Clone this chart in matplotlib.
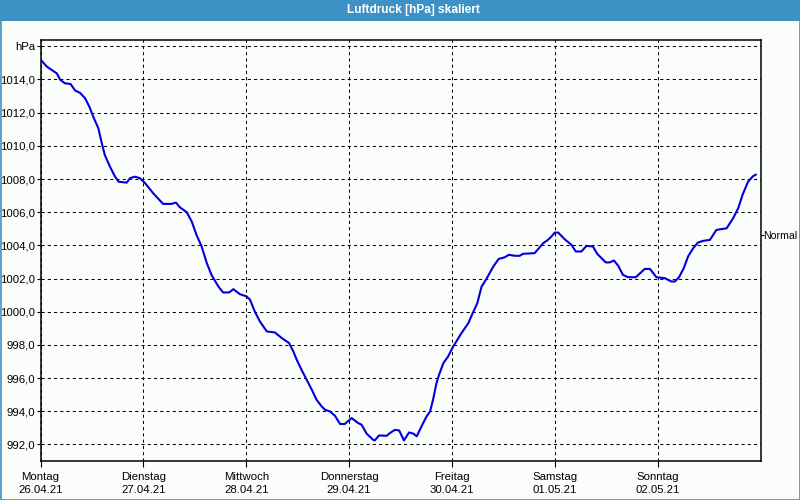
import matplotlib
matplotlib.use("Agg")
import matplotlib.pyplot as plt
from matplotlib.patches import Rectangle

# ---- data -------------------------------------------------------------
title = "Luftdruck [hPa] skaliert"
day_names = ["Montag", "Dienstag", "Mittwoch", "Donnerstag", "Freitag", "Samstag", "Sonntag"]
day_dates = ["26.04.21", "27.04.21", "28.04.21", "29.04.21", "30.04.21", "01.05.21", "02.05.21"]
day_hours = [0, 24, 48, 72, 96, 120, 144]
y_ticks = [992, 994, 996, 998, 1000, 1002, 1004, 1006, 1008, 1010, 1012, 1014, 1016]
y_labels = ["992,0", "994,0", "996,0", "998,0", "1000,0", "1002,0", "1004,0",
            "1006,0", "1008,0", "1010,0", "1012,0", "1014,0", "hPa"]
normal_value = 1004.6
normal_label = "Normal"

hours = [0.1, 1.5, 3.8, 4.6, 5.7, 7.0, 8.1, 9.2, 10.4, 11.4, 12.3, 13.5, 14.3, 15.0,
         16.2, 17.4, 18.2, 20.1, 20.9, 22.0, 23.2, 24.4, 26.3, 28.6, 30.6, 31.6, 32.5,
         34.1, 35.3, 36.4, 37.6, 38.8, 39.9, 41.5, 42.6, 44.0, 45.0, 46.5, 48.1, 48.9,
         50.0, 51.2, 52.8, 54.7, 56.3, 58.0, 59.0, 59.8, 60.9, 62.1, 63.3, 64.4, 65.6,
         66.4, 67.5, 68.7, 69.9, 71.0, 72.6, 74.1, 74.9, 76.1, 77.6, 78.0, 79.0, 80.8,
         81.5, 82.7, 83.7, 84.8, 86.0, 87.0, 87.8, 88.9, 90.1, 90.9, 91.6, 92.4, 93.0,
         94.0, 95.1, 96.3, 98.2, 99.8, 101.0, 101.9, 102.9, 104.1, 105.6, 106.9, 108.3,
         109.3, 110.7, 111.8, 112.6, 115.3, 116.3, 117.3, 118.4, 119.2, 120.0, 120.8,
         122.3, 123.9, 124.9, 126.2, 127.4, 128.9, 129.9, 131.9, 132.8, 133.8, 134.8,
         135.9, 137.1, 138.9, 141.0, 142.2, 143.7, 145.7, 147.2, 148.0, 149.0, 150.1,
         151.1, 152.3, 153.4, 154.6, 156.2, 157.7, 160.1, 161.6, 162.8, 163.8, 165.1,
         166.3, 166.9]
pressure = [1015.17, 1014.77, 1014.37, 1013.98, 1013.77, 1013.73, 1013.33, 1013.20,
            1012.87, 1012.36, 1011.76, 1011.06, 1010.16, 1009.45, 1008.75, 1008.14,
            1007.84, 1007.78, 1008.05, 1008.14, 1008.05, 1007.75, 1007.14, 1006.50,
            1006.50, 1006.58, 1006.30, 1006.00, 1005.43, 1004.63, 1003.93, 1002.93,
            1002.22, 1001.52, 1001.16, 1001.16, 1001.36, 1001.06, 1000.92, 1000.72,
            1000.01, 999.41, 998.81, 998.75, 998.41, 998.11, 997.60, 997.10, 996.50,
            995.90, 995.30, 994.70, 994.29, 994.09, 993.99, 993.73, 993.23, 993.23,
            993.59, 993.29, 993.19, 992.65, 992.28, 992.24, 992.54, 992.52, 992.68,
            992.88, 992.84, 992.24, 992.72, 992.65, 992.49, 993.09, 993.69, 993.99,
            994.70, 995.70, 996.20, 996.90, 997.30, 997.90, 998.70, 999.30, 1000.00,
            1000.50, 1001.50, 1002.00, 1002.70, 1003.18, 1003.28, 1003.43, 1003.37,
            1003.37, 1003.49, 1003.53, 1003.83, 1004.13, 1004.33, 1004.53, 1004.77,
            1004.77, 1004.37, 1004.03, 1003.63, 1003.63, 1003.97, 1003.93, 1003.49,
            1002.97, 1002.97, 1003.09, 1002.77, 1002.22, 1002.08, 1002.08, 1002.58,
            1002.58, 1002.08, 1002.02, 1001.82, 1001.82, 1002.08, 1002.63, 1003.33,
            1003.83, 1004.17, 1004.27, 1004.33, 1004.93, 1005.03, 1005.63, 1006.24,
            1007.04, 1007.84, 1008.18, 1008.26]

# ---- figure -----------------------------------------------------------
BG = "#fafdfa"
BAR = "#3d91c5"
FONT = "Liberation Sans"
FS = 8.2

fig = plt.figure(figsize=(8, 5), dpi=100, facecolor=BG)

# title bar
fig.patches.append(Rectangle((0, 1 - 21 / 500), 1, 21 / 500, transform=fig.transFigure,
                             facecolor=BAR, edgecolor="none", zorder=0))
fig.text(413 / 800, 1 - 10.5 / 500, title, color="white", fontsize=8.6, fontweight="bold",
         family=FONT, ha="center", va="center")
# outer frame
fig.patches.append(Rectangle((0.5 / 800, 0.5 / 500), 799 / 800, 499 / 500,
                             transform=fig.transFigure, facecolor="none",
                             edgecolor=BAR, linewidth=1.2, zorder=5))

ax = fig.add_axes([40.5 / 800, 39 / 500, 720 / 800, 421 / 500])
ax.set_facecolor(BG)
ax.plot(hours, pressure, color="#0000dd", linewidth=1.5, zorder=3,
        solid_joinstyle="round")

ax.set_xlim(0, 168)
ax.set_ylim(991.0, 1016.38)

ax.set_yticks(y_ticks)
ax.set_yticklabels(y_labels)
ax.set_xticks(day_hours)
ax.set_xticklabels([f"{n}\n{d}" for n, d in zip(day_names, day_dates)],
                   linespacing=1.4)

for lab in ax.get_xticklabels() + ax.get_yticklabels():
    lab.set_family(FONT)
    lab.set_fontsize(FS)
    lab.set_color("black")

ax.tick_params(axis="y", direction="out", length=3, width=0.8, pad=1)
ax.tick_params(axis="x", direction="out", length=4, width=0.8, pad=4)

ax.grid(True, color="black", linewidth=0.75, linestyle=(0, (3, 3)))
for s in ax.spines.values():
    s.set_linewidth(1.1)
    s.set_color("black")

sec = ax.secondary_yaxis("right")
sec.set_yticks([normal_value])
sec.set_yticklabels([normal_label])
sec.tick_params(direction="out", length=2, width=0.8, pad=0.2)
for lab in sec.get_yticklabels():
    lab.set_family(FONT)
    lab.set_fontsize(7.6)
sec.spines["right"].set_visible(False)

fig.savefig("out.png", dpi=100, facecolor=BG)
